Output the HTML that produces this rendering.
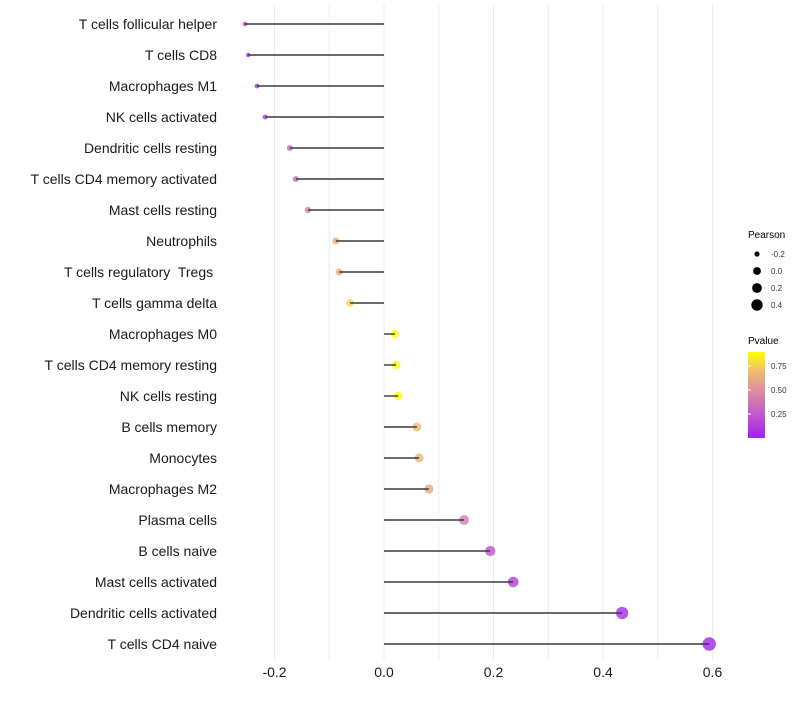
<!DOCTYPE html>
<html><head><meta charset="utf-8"><style>
body{margin:0;background:#fff;font-family:"Liberation Sans",sans-serif;}
text{white-space:pre;}
</style></head><body>
<svg id="c" width="800" height="700" xmlns="http://www.w3.org/2000/svg" font-family="Liberation Sans, sans-serif">
<defs><linearGradient id="pg" x1="0" y1="1" x2="0" y2="0">
<stop offset="0" stop-color="#A020F0"/><stop offset="0.28" stop-color="#C15ACB"/><stop offset="0.55" stop-color="#DC8E9E"/><stop offset="0.78" stop-color="#F0BE6E"/><stop offset="1" stop-color="#FFFF00"/></linearGradient></defs>
<g id="grid"></g><g id="dots"></g><g id="stems"></g><g id="ylab"></g><g id="xlab"></g>
<g>
<text x="748" y="238" font-size="10" fill="#000">Pearson</text>
<g id="sizeleg"></g></g>
<g>
<text x="748" y="344" font-size="10" fill="#000">Pvalue</text>
<rect x="748" y="352" width="17" height="86" fill="url(#pg)"/>
<g id="colleg"></g></g>
</svg>
<script>
const categories=["T cells follicular helper","T cells CD8","Macrophages M1","NK cells activated","Dendritic cells resting","T cells CD4 memory activated","Mast cells resting","Neutrophils","T cells regulatory  Tregs ","T cells gamma delta","Macrophages M0","T cells CD4 memory resting","NK cells resting","B cells memory","Monocytes","Macrophages M2","Plasma cells","B cells naive","Mast cells activated","Dendritic cells activated","T cells CD4 naive"];
const pearson=[-0.254,-0.248,-0.232,-0.217,-0.172,-0.161,-0.139,-0.088,-0.082,-0.062,0.020,0.022,0.026,0.060,0.064,0.082,0.146,0.194,0.236,0.435,0.594];
const pvalue=[0.05,0.06,0.08,0.12,0.30,0.35,0.45,0.62,0.64,0.76,0.89,0.89,0.88,0.68,0.66,0.6,0.4,0.22,0.14,0.04,0.03];
const xTicks=[-0.2,0,0.2,0.4,0.6];
const xTickLabels=["-0.2","0.0","0.2","0.4","0.6"];
const sizeLegend=[-0.2,0,0.2,0.4];
const colorLegend=[0.25,0.5,0.75];
const NS="http://www.w3.org/2000/svg";
const x=v=>384+v*547.5;
const y=i=>24+i*31;
const r=v=>Math.sqrt(Math.max(1,16.9+47.8*v));
const py=p=>438-p*96;
const stops=[[0,[160,32,240]],[0.28,[193,90,203]],[0.55,[220,142,158]],[0.78,[240,190,110]],[1,[255,255,0]]];
function col(p){let t=Math.min(1,Math.max(0,p/0.896));for(let k=1;k<stops.length;k++){if(t<=stops[k][0]){const a=stops[k-1],b=stops[k];const f=(t-a[0])/(b[0]-a[0]);const c=a[1].map((v,j)=>Math.round(v+(b[1][j]-v)*f));return `rgb(${c})`;}}return "rgb(255,255,0)";}
function mk(tag,at,parent){const e=document.createElementNS(NS,tag);for(const k in at)e.setAttribute(k,at[k]);document.getElementById(parent).appendChild(e);return e;}
for(let v=-0.2;v<=0.61;v+=0.1){const g=mk("line",{x1:x(v),x2:x(v),y1:5,y2:660,stroke:"#ebebeb","stroke-width":1},"grid");

}
categories.forEach((c,i)=>{
const d=mk("circle",{cx:x(pearson[i]),cy:y(i),r:r(pearson[i]),fill:col(pvalue[i]),"fill-opacity":0.8},"dots");


const s=mk("line",{x1:x(0),x2:x(pearson[i]),y1:y(i),y2:y(i),stroke:"#3a3a3a","stroke-width":1.4},"stems");


const t=mk("text",{x:217,y:y(i)+5,"text-anchor":"end","font-size":14,fill:"#1a1a1a"},"ylab");t.textContent=c;


});
xTicks.forEach((v,i)=>{const t=mk("text",{x:x(v),y:677,"text-anchor":"middle","font-size":14,fill:"#1a1a1a"},"xlab");t.textContent=xTickLabels[i];

});
sizeLegend.forEach((v,i)=>{const yy=254+i*17;const c=mk("circle",{cx:757,cy:yy,r:r(v)*0.95,fill:"#000"},"sizeleg");


const t=mk("text",{x:771,y:yy+3,"font-size":8,fill:"#333"},"sizeleg");t.textContent=v.toFixed(1);

});
colorLegend.forEach(p=>{const yy=py(p);const l=mk("line",{x1:748,x2:751,y1:yy,y2:yy,stroke:"#fff"},"colleg");


const t=mk("text",{x:771,y:yy+3,"font-size":8,fill:"#333"},"colleg");t.textContent=p.toFixed(2);

});
</script>
</body></html>
